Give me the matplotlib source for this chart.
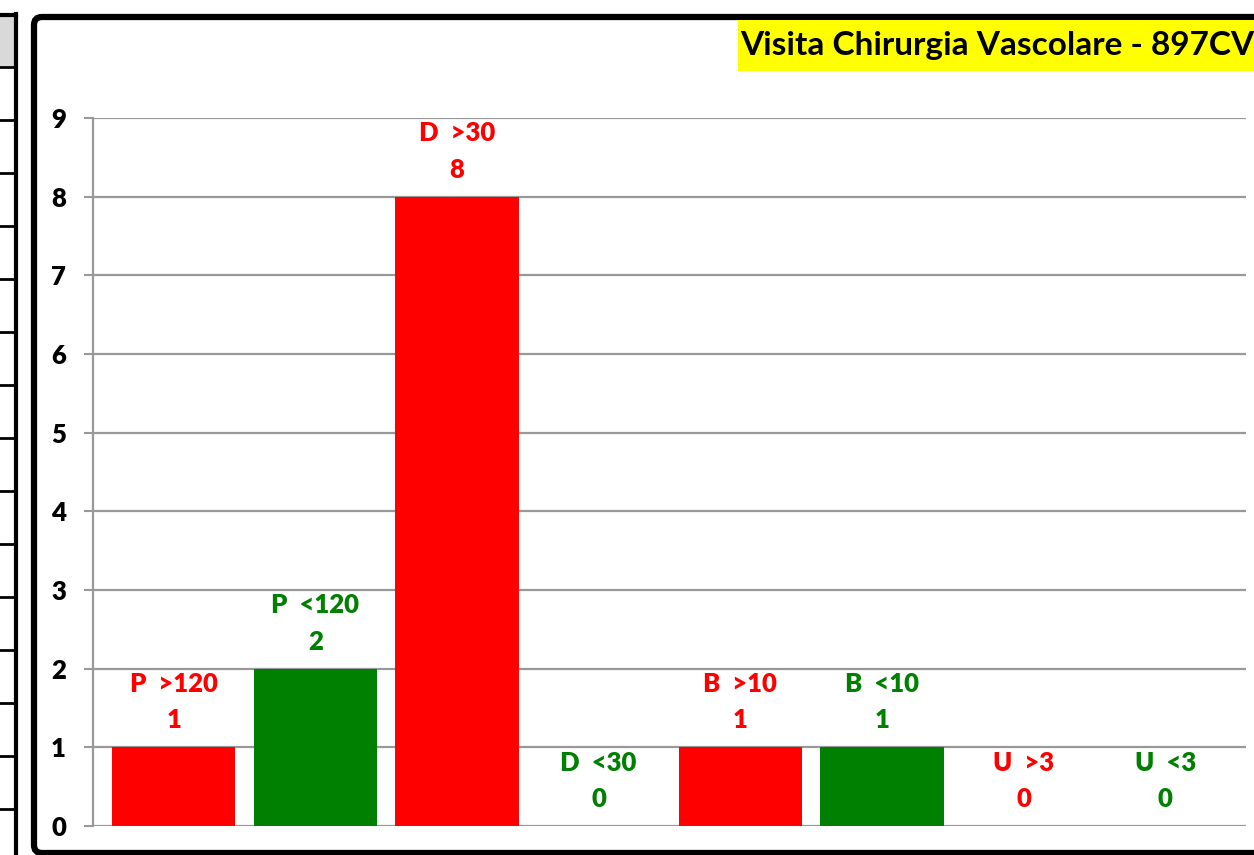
import matplotlib.pyplot as plt
from matplotlib.patches import Rectangle, FancyBboxPatch

categories = ["P  >120", "P  <120", "D  >30", "D  <30", "B  >10", "B  <10", "U  >3", "U  <3"]
values = [1, 2, 8, 0, 1, 1, 0, 0]
bar_colors = ["#FF0000", "#008000", "#FF0000", "#008000", "#FF0000", "#008000", "#FF0000", "#008000"]
yticks = list(range(10))
title = "Visita Chirurgia Vascolare - 897CV"

W, H = 1254, 855
plt.rcParams['font.family'] = ['Lato', 'DejaVu Sans']
plt.rcParams['font.weight'] = 'bold'

fig = plt.figure(figsize=(W / 100, H / 100), dpi=100)
fig.patch.set_facecolor('white')

# overlay in pixel coords for the frame / table decoration
bg = fig.add_axes([0, 0, 1, 1], zorder=0)
bg.set_xlim(0, W)
bg.set_ylim(H, 0)
bg.axis('off')

# piece of the table on the left
bg.add_patch(Rectangle((0, 16), 15, 50, facecolor='#D9D9D9', edgecolor='none'))
bg.plot([16, 16], [14, H], color='black', lw=3)
bg.plot([0, 16], [15, 15], color='black', lw=3)
for k in range(15):
    yy = 67 + 53 * k
    bg.plot([0, 16], [yy, yy], color='black', lw=2)

# chart frame
bg.add_patch(FancyBboxPatch((34, 17), 1300, 836, boxstyle='round,pad=0,rounding_size=8',
                            facecolor='white', edgecolor='black', lw=4.5))

# title box
bg.add_patch(Rectangle((738, 20), 600, 51, facecolor='#FFFF00', edgecolor='none'))
bg.text(740, 46, title, fontsize=24, fontweight='bold', color='black', va='center', ha='left')

ax = fig.add_axes([93 / W, (H - 826) / H, (1246 - 93) / W, (826 - 118) / H], zorder=1)
ax.patch.set_alpha(0)

x = list(range(len(categories)))
ax.bar(x, values, width=0.87, color=bar_colors, linewidth=0, zorder=3)

for i, (lab, v, c) in enumerate(zip(categories, values, bar_colors)):
    ax.annotate(lab, (i, v), xytext=(0, 45.5), textcoords='offset points', ha='center', va='center',
                color=c, fontsize=18.5, fontweight='heavy')
    ax.annotate(str(v), (i, v), xytext=(0, 19.5), textcoords='offset points', ha='center', va='center',
                color=c, fontsize=18.5, fontweight='heavy')

ax.set_xlim(-0.57, 7.57)
ax.set_ylim(0, 9)
ax.set_yticks(yticks)
ax.set_yticklabels([str(t) for t in yticks], fontsize=18.5, fontweight='heavy')
ax.set_xticks([])
ax.tick_params(axis='y', length=6.5, width=1.5, color='#999999', pad=13)
ax.yaxis.grid(True, color='#999999', lw=1.6, zorder=0)
ax.set_axisbelow(True)
for s in ['top', 'right', 'bottom']:
    ax.spines[s].set_visible(False)
ax.spines['left'].set_color('#999999')
ax.spines['left'].set_linewidth(1.6)

fig.savefig('out.png', dpi=100)
